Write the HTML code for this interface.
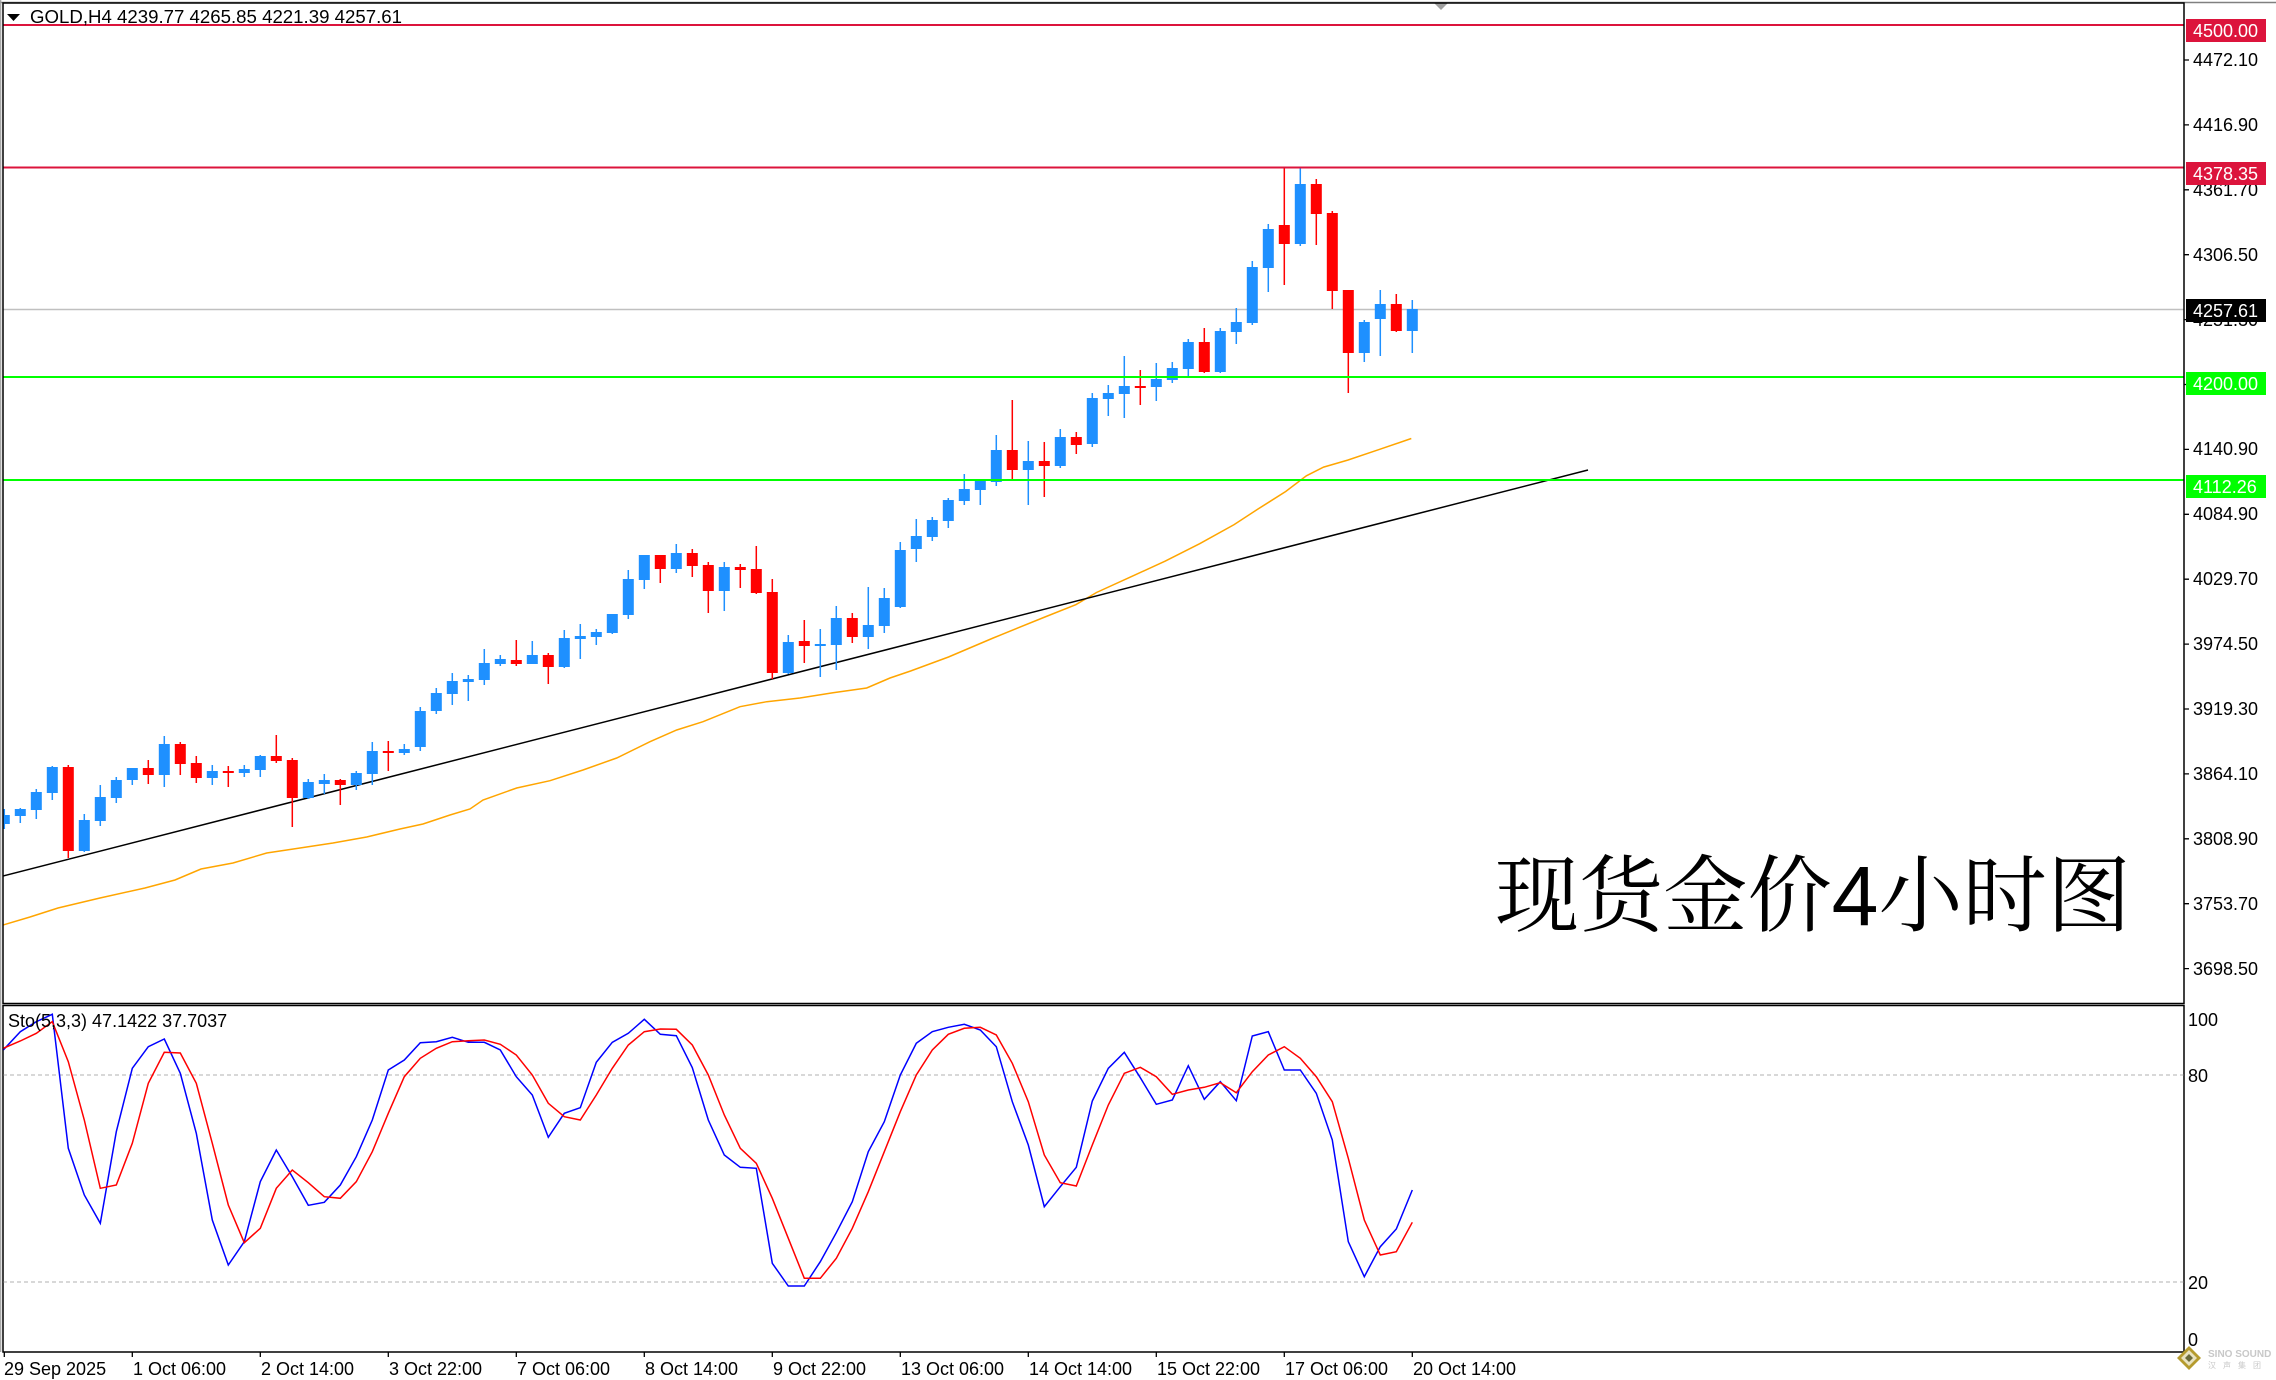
<!DOCTYPE html>
<html><head><meta charset="utf-8"><title>GOLD H4</title>
<style>html,body{margin:0;padding:0;background:#fff;}svg{display:block;}</style>
</head><body>
<svg xmlns="http://www.w3.org/2000/svg" width="2276" height="1380" viewBox="0 0 2276 1380" font-family="'Liberation Sans', Arial, sans-serif">
<defs>
<clipPath id="cm"><rect x="3.5" y="3.5" width="2180" height="999"/></clipPath>
<clipPath id="cs"><rect x="3.5" y="1006" width="2180" height="345"/></clipPath>
</defs>
<rect width="2276" height="1380" fill="#fff"/>

<!-- main chart -->
<g clip-path="url(#cm)">
<line x1="3" y1="309.5" x2="2184" y2="309.5" stroke="#c0c0c0" stroke-width="1.5"/>
<polyline fill="none" stroke="#FFA500" stroke-width="1.5" points="3,925 30,917 58,908 100,898 145,888 175,880 201,869 233,863 266.7,853 300,848 333,843 366.7,837 400,829 423,824 450,815 470,809 483,800 516.7,788 550,780.7 583,770 616.7,758 650,741.7 676.7,730 703,721.7 740,706.7 766.7,701.7 800,698 833,692.7 866.7,688 890,678 910.6,671 948.5,657 993.2,638 1044.9,617 1075.8,604.7 1096.5,592.5 1130.9,576.8 1165.3,561.1 1199.7,543.7 1234.1,524.6 1258.2,508.9 1285.7,491.5 1306.4,475.8 1323.6,467.1 1347.7,460.1 1378.6,449.7 1411.3,438.5"/>
<line x1="3" y1="876" x2="1588" y2="470" stroke="#000" stroke-width="1.5"/>

<path fill="none" stroke="#1E90FF" stroke-width="1.5" d="M4.3 809V829M20.3 808V823M36.3 789V819M52.3 766V800M84.3 814V852M100.3 785V826M116.3 777V803M132.3 768V785M164.3 736V787M212.3 765V785M244.3 765V777M260.3 755V777M308.3 779V799M324.3 774V794M356.3 771V790M372.3 742V785M404.3 744V755M420.3 707V751M436.3 688V714M452.3 673V705M468.3 675V701M484.3 649V685M500.3 655V666M532.3 641V664M564.3 630V668M580.3 624V659M596.3 629V645M612.3 614V634M628.3 570V619M644.3 555V589M676.3 544V573M724.3 562V611M788.3 635V674M820.3 629V677M836.3 606V670M868.3 587V649M884.3 588V633M900.3 542V608M916.3 519V562M932.3 517V541M948.3 498V528M964.3 474V505M980.3 479V505M996.3 435V486M1028.3 441V505M1060.3 429V468M1092.3 393V447M1108.3 385V416M1124.3 356V418M1156.3 363V401M1172.3 362V383M1188.3 339V378M1220.3 328V373M1236.3 308V344M1252.3 261V325M1268.3 224V292M1300.3 168V246M1364.3 320V362M1380.3 290V356M1412.3 300V353"/>
<path fill="none" stroke="#FF0000" stroke-width="1.5" d="M68.3 765V858M148.3 760V784M180.3 742V775M196.3 756V783M228.3 766V787M276.3 735V763M292.3 758V827M340.3 779V805M388.3 741V771M516.3 640V666M548.3 653V684M660.3 555V583M692.3 549V577M708.3 562V613M740.3 564V588M756.3 546V594M772.3 579V679M804.3 620V663M852.3 613V643M1012.3 400V481M1044.3 442V497M1076.3 432V454M1140.3 370V405M1204.3 328V373M1284.3 167V285M1316.3 179V245M1332.3 211V309M1348.3 290V393M1396.3 294V332"/>

<g fill="#1E90FF">
<rect x="-1.2" y="815" width="11" height="9"/>
<rect x="14.8" y="809" width="11" height="7"/>
<rect x="30.8" y="792" width="11" height="18"/>
<rect x="46.8" y="767" width="11" height="26"/>
<rect x="78.8" y="820" width="11" height="31"/>
<rect x="94.8" y="797" width="11" height="24"/>
<rect x="110.8" y="780" width="11" height="18"/>
<rect x="126.8" y="768" width="11" height="12"/>
<rect x="158.8" y="744" width="11" height="31"/>
<rect x="206.8" y="771" width="11" height="7"/>
<rect x="238.8" y="769" width="11" height="4"/>
<rect x="254.8" y="756" width="11" height="14"/>
<rect x="302.8" y="782" width="11" height="16"/>
<rect x="318.8" y="780" width="11" height="4"/>
<rect x="350.8" y="773" width="11" height="12"/>
<rect x="366.8" y="751" width="11" height="23"/>
<rect x="398.8" y="749" width="11" height="4"/>
<rect x="414.8" y="711" width="11" height="36"/>
<rect x="430.8" y="693" width="11" height="18"/>
<rect x="446.8" y="681" width="11" height="13"/>
<rect x="462.8" y="679" width="11" height="3"/>
<rect x="478.8" y="663" width="11" height="17"/>
<rect x="494.8" y="659" width="11" height="5"/>
<rect x="526.8" y="655" width="11" height="9"/>
<rect x="558.8" y="638" width="11" height="29"/>
<rect x="574.8" y="636" width="11" height="3"/>
<rect x="590.8" y="632" width="11" height="5"/>
<rect x="606.8" y="614" width="11" height="19"/>
<rect x="622.8" y="579" width="11" height="36"/>
<rect x="638.8" y="555" width="11" height="25"/>
<rect x="670.8" y="553" width="11" height="16"/>
<rect x="718.8" y="567" width="11" height="24"/>
<rect x="782.8" y="642" width="11" height="31"/>
<rect x="814.8" y="644" width="11" height="2"/>
<rect x="830.8" y="618" width="11" height="27"/>
<rect x="862.8" y="625" width="11" height="12"/>
<rect x="878.8" y="598" width="11" height="28"/>
<rect x="894.8" y="550" width="11" height="57"/>
<rect x="910.8" y="536" width="11" height="13"/>
<rect x="926.8" y="520" width="11" height="17"/>
<rect x="942.8" y="500" width="11" height="21"/>
<rect x="958.8" y="489" width="11" height="12"/>
<rect x="974.8" y="481" width="11" height="9"/>
<rect x="990.8" y="450" width="11" height="32"/>
<rect x="1022.8" y="461" width="11" height="9"/>
<rect x="1054.8" y="437" width="11" height="29"/>
<rect x="1086.8" y="398" width="11" height="46"/>
<rect x="1102.8" y="393" width="11" height="6"/>
<rect x="1118.8" y="386" width="11" height="8"/>
<rect x="1150.8" y="379" width="11" height="8"/>
<rect x="1166.8" y="368" width="11" height="12"/>
<rect x="1182.8" y="342" width="11" height="27"/>
<rect x="1214.8" y="331" width="11" height="41"/>
<rect x="1230.8" y="322" width="11" height="10"/>
<rect x="1246.8" y="267" width="11" height="56"/>
<rect x="1262.8" y="229" width="11" height="39"/>
<rect x="1294.8" y="184" width="11" height="60"/>
<rect x="1358.8" y="322" width="11" height="31"/>
<rect x="1374.8" y="304" width="11" height="15"/>
<rect x="1406.8" y="309" width="11" height="22"/>
</g>
<g fill="#FF0000">
<rect x="62.8" y="767" width="11" height="84"/>
<rect x="142.8" y="768" width="11" height="7"/>
<rect x="174.8" y="744" width="11" height="20"/>
<rect x="190.8" y="763" width="11" height="15"/>
<rect x="222.8" y="771" width="11" height="2"/>
<rect x="270.8" y="756" width="11" height="5"/>
<rect x="286.8" y="760" width="11" height="38"/>
<rect x="334.8" y="780" width="11" height="5"/>
<rect x="382.8" y="751" width="11" height="2"/>
<rect x="510.8" y="660" width="11" height="4"/>
<rect x="542.8" y="655" width="11" height="12"/>
<rect x="654.8" y="555" width="11" height="14"/>
<rect x="686.8" y="553" width="11" height="13"/>
<rect x="702.8" y="565" width="11" height="26"/>
<rect x="734.8" y="567" width="11" height="3"/>
<rect x="750.8" y="569" width="11" height="24"/>
<rect x="766.8" y="592" width="11" height="81"/>
<rect x="798.8" y="641" width="11" height="5"/>
<rect x="846.8" y="618" width="11" height="19"/>
<rect x="1006.8" y="450" width="11" height="20"/>
<rect x="1038.8" y="461" width="11" height="5"/>
<rect x="1070.8" y="437" width="11" height="8"/>
<rect x="1134.8" y="386" width="11" height="2"/>
<rect x="1198.8" y="342" width="11" height="30"/>
<rect x="1278.8" y="225" width="11" height="19"/>
<rect x="1310.8" y="184" width="11" height="30"/>
<rect x="1326.8" y="213" width="11" height="78"/>
<rect x="1342.8" y="290" width="11" height="63"/>
<rect x="1390.8" y="304" width="11" height="27"/>
</g>

<line x1="3" y1="25" x2="2184" y2="25" stroke="#DC143C" stroke-width="2"/>
<line x1="3" y1="167.5" x2="2184" y2="167.5" stroke="#DC143C" stroke-width="2"/>
<line x1="3" y1="377" x2="2184" y2="377" stroke="#00FF00" stroke-width="2"/>
<line x1="3" y1="480" x2="2184" y2="480" stroke="#00FF00" stroke-width="2"/>
</g>

<!-- header -->
<polygon points="7,14 20,14 13.5,21" fill="#000"/>
<text x="30" y="23" font-size="18" fill="#000" textLength="372" lengthAdjust="spacingAndGlyphs">GOLD,H4  4239.77 4265.85 4221.39 4257.61</text>

<!-- big caption -->
<text x="1495" y="925" font-size="84" fill="#000" textLength="636" lengthAdjust="spacingAndGlyphs" font-family="'Liberation Sans', 'Noto Serif CJK SC', serif">现货金价4小时图</text>

<!-- frames -->
<line x1="0" y1="2.5" x2="2276" y2="2.5" stroke="#808080" stroke-width="1.5"/>
<line x1="0.7" y1="0" x2="0.7" y2="1352" stroke="#a0a0a0" stroke-width="1.2"/>
<polygon points="1434,3 1448,3 1441,10" fill="#a0a0a0"/>
<rect x="3" y="3" width="2181" height="1000.5" fill="none" stroke="#000" stroke-width="1.5"/>
<rect x="3" y="1005.5" width="2181" height="346.5" fill="none" stroke="#000" stroke-width="1.5"/>

<!-- price axis -->
<g stroke="#000" stroke-width="1.3">
<path d="M2184 60h5M2184 124.9h5M2184 189.8h5M2184 254.7h5M2184 319.6h5M2184 384.5h5M2184 449.4h5M2184 514.3h5M2184 579.2h5M2184 644.1h5M2184 709h5M2184 773.9h5M2184 838.8h5M2184 903.7h5M2184 968.6h5"/>
</g>
<g font-size="18" fill="#000">
<text x="2193" y="66">4472.10</text>
<text x="2193" y="131">4416.90</text>
<text x="2193" y="196">4361.70</text>
<text x="2193" y="261">4306.50</text>
<text x="2193" y="326">4251.30</text>
<text x="2193" y="390">4196.10</text>
<text x="2193" y="455">4140.90</text>
<text x="2193" y="520">4084.90</text>
<text x="2193" y="585">4029.70</text>
<text x="2193" y="650">3974.50</text>
<text x="2193" y="715">3919.30</text>
<text x="2193" y="780">3864.10</text>
<text x="2193" y="845">3808.90</text>
<text x="2193" y="910">3753.70</text>
<text x="2193" y="975">3698.50</text>
</g>
<rect x="2186" y="19" width="80" height="23" fill="#DC143C"/>
<text x="2193" y="37" font-size="18" fill="#fff">4500.00</text>
<rect x="2186" y="162" width="80" height="23" fill="#DC143C"/>
<text x="2193" y="180" font-size="18" fill="#fff">4378.35</text>
<rect x="2186" y="299" width="80" height="23" fill="#000"/>
<text x="2193" y="317" font-size="18" fill="#fff">4257.61</text>
<rect x="2186" y="372" width="80" height="23" fill="#00FF00"/>
<text x="2193" y="390" font-size="18" fill="#fff">4200.00</text>
<rect x="2186" y="475" width="80" height="23" fill="#00FF00"/>
<text x="2193" y="493" font-size="18" fill="#fff">4112.26</text>

<!-- stochastic -->
<g clip-path="url(#cs)">
<line x1="3" y1="1075" x2="2184" y2="1075" stroke="#c0c0c0" stroke-width="1.2" stroke-dasharray="4,3"/>
<line x1="3" y1="1282" x2="2184" y2="1282" stroke="#c0c0c0" stroke-width="1.2" stroke-dasharray="4,3"/>
<polyline fill="none" stroke="#0000FF" stroke-width="1.5" points="3.3,1050 20.3,1031.7 36.3,1021.7 52.3,1014.3 68.3,1148.3 84.3,1195 100.3,1223.3 116.3,1131.7 132.3,1068.3 148.3,1046.7 164.3,1039 180.3,1073.3 196.3,1133.3 212.3,1220 228.3,1265 244.3,1241.7 260.3,1181.7 276.3,1150 292.3,1176.7 308.3,1205.3 324.3,1202.3 340.3,1185 356.3,1156.7 372.3,1120 388.3,1070 404.3,1060 420.3,1042.7 436.3,1041.7 452.3,1037.3 468.3,1042.3 484.3,1042.3 500.3,1050 516.3,1076.7 532.3,1095 548.3,1137.3 564.3,1113.3 580.3,1107.7 596.3,1062.3 612.3,1042.3 628.3,1033.3 644.3,1019.3 660.3,1034.3 676.3,1035.7 692.3,1067.7 708.3,1120 724.3,1155 740.3,1167.3 756.3,1168.3 772.3,1263.3 788.3,1286 804.3,1286 820.3,1261.7 836.3,1232.7 852.3,1201.7 868.3,1151.7 884.3,1121.7 900.3,1075 916.3,1043.3 932.3,1031.7 948.3,1027.3 964.3,1024.3 980.3,1030 996.3,1046.7 1012.3,1101.7 1028.3,1145 1044.3,1206.7 1060.3,1186.7 1076.3,1167.3 1092.3,1101 1108.3,1068.3 1124.3,1052.3 1140.3,1077.7 1156.3,1104.3 1172.3,1100 1188.3,1065.7 1204.3,1099.3 1220.3,1081.7 1236.3,1100.7 1252.3,1036 1268.3,1031.7 1284.3,1070 1300.3,1070 1316.3,1093.3 1332.3,1140 1348.3,1241.7 1364.3,1276.7 1380.3,1246.7 1396.3,1229 1412.3,1190"/>
<polyline fill="none" stroke="#FF0000" stroke-width="1.5" points="3.3,1048.3 20.3,1041 36.3,1033.3 52.3,1021.7 68.3,1061.7 84.3,1120 100.3,1188.3 116.3,1185 132.3,1143.3 148.3,1083.3 164.3,1052.3 180.3,1053 196.3,1083.3 212.3,1143.3 228.3,1205 244.3,1242.7 260.3,1228.3 276.3,1188.3 292.3,1170 308.3,1182.7 324.3,1196.7 340.3,1198.3 356.3,1181.7 372.3,1151.7 388.3,1113.3 404.3,1076.7 420.3,1058.3 436.3,1048.3 452.3,1041.7 468.3,1040.7 484.3,1040 500.3,1044.3 516.3,1055 532.3,1075 548.3,1103.3 564.3,1116.7 580.3,1120 596.3,1095 612.3,1068.3 628.3,1045 644.3,1031.7 660.3,1029 676.3,1029.3 692.3,1045 708.3,1075 724.3,1115 740.3,1148.3 756.3,1163.3 772.3,1198.3 788.3,1238.3 804.3,1278.3 820.3,1278.3 836.3,1258.3 852.3,1228.3 868.3,1191.7 884.3,1151.7 900.3,1111.7 916.3,1075 932.3,1050 948.3,1034.3 964.3,1028.3 980.3,1027.3 996.3,1035 1012.3,1063.3 1028.3,1101.7 1044.3,1155 1060.3,1182.7 1076.3,1186 1092.3,1145 1108.3,1105 1124.3,1073.3 1140.3,1067.3 1156.3,1076.7 1172.3,1094.3 1188.3,1090 1204.3,1087.3 1220.3,1082.7 1236.3,1092.7 1252.3,1071.7 1268.3,1055 1284.3,1046.7 1300.3,1058.3 1316.3,1076.7 1332.3,1101.7 1348.3,1158.3 1364.3,1220 1380.3,1255 1396.3,1251.7 1412.3,1222.3"/>
</g>
<text x="8" y="1027" font-size="18" fill="#000">Sto(5,3,3) 47.1422 37.7037</text>
<g font-size="18" fill="#000">
<text x="2188" y="1026">100</text>
<text x="2188" y="1082">80</text>
<text x="2188" y="1289">20</text>
<text x="2188" y="1346">0</text>
</g>

<!-- time axis -->
<path stroke="#000" stroke-width="1.3" d="M4.3 1352v5M132.3 1352v5M260.3 1352v5M388.3 1352v5M516.3 1352v5M644.3 1352v5M772.3 1352v5M900.3 1352v5M1028.3 1352v5M1156.3 1352v5M1284.3 1352v5M1412.3 1352v5"/>
<g font-size="18" fill="#000">
<text x="4" y="1375">29 Sep 2025</text>
<text x="133" y="1375">1 Oct 06:00</text>
<text x="261" y="1375">2 Oct 14:00</text>
<text x="389" y="1375">3 Oct 22:00</text>
<text x="517" y="1375">7 Oct 06:00</text>
<text x="645" y="1375">8 Oct 14:00</text>
<text x="773" y="1375">9 Oct 22:00</text>
<text x="901" y="1375">13 Oct 06:00</text>
<text x="1029" y="1375">14 Oct 14:00</text>
<text x="1157" y="1375">15 Oct 22:00</text>
<text x="1285" y="1375">17 Oct 06:00</text>
<text x="1413" y="1375">20 Oct 14:00</text>
</g>

<!-- watermark -->
<polygon points="2189,1346 2201,1358 2189,1370 2177,1358" fill="#b59b2e"/>
<polygon points="2189,1350 2197,1358 2189,1366 2181,1358" fill="#e8e2c0"/>
<polygon points="2189,1354 2193,1358 2189,1362 2185,1358" fill="#6b6b3a"/>
<text x="2208" y="1357" font-size="10" font-weight="bold" fill="#c8c8c8">SINO SOUND</text>
<text x="2208" y="1368" font-size="8" fill="#c8c8c8" font-family="'Liberation Sans','Noto Sans CJK SC',sans-serif" letter-spacing="7">汉声集团</text>
</svg>
</body></html>
